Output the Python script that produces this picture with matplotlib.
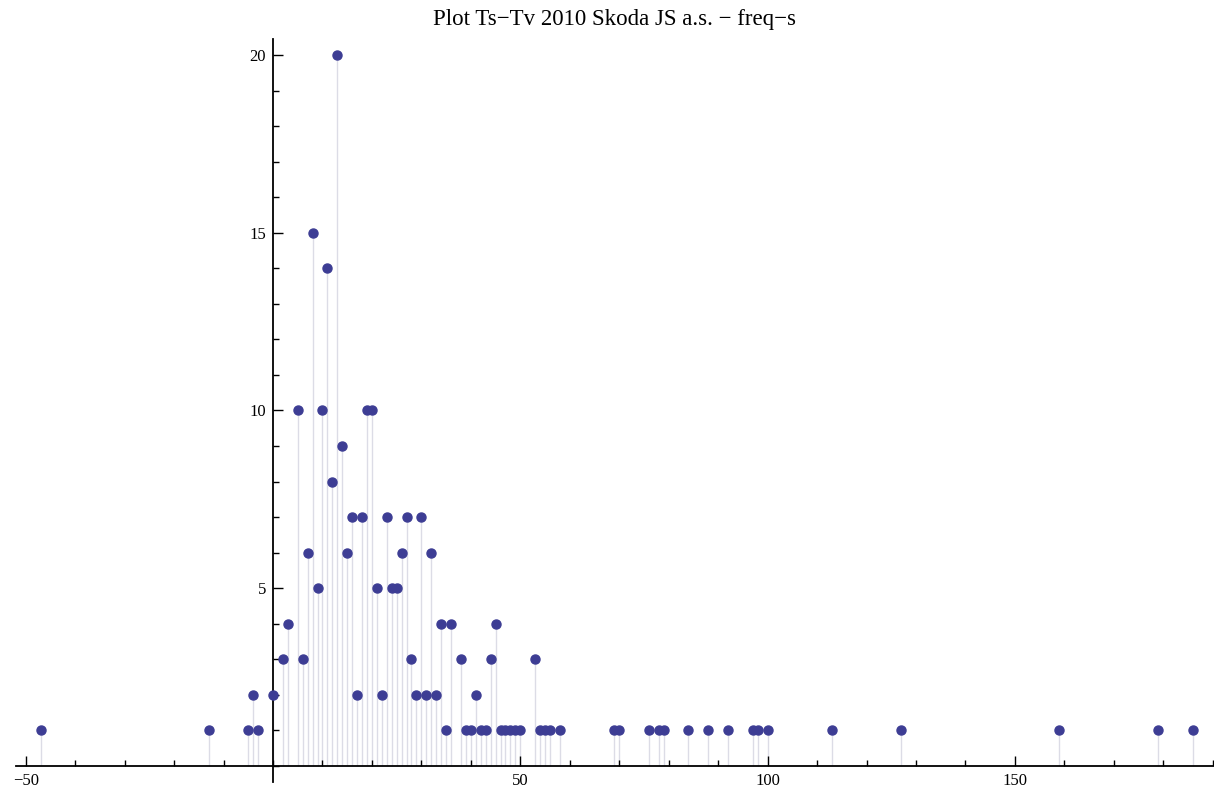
import matplotlib
matplotlib.use('Agg')
import matplotlib.pyplot as plt
from matplotlib.ticker import MultipleLocator, FixedLocator
import numpy as np

# Ts - Tv differences and how often each one occurs
diff = [-47, -13, -5, -4, -3, 0, 2, 3, 5, 6, 7, 8, 9, 10, 11, 12, 13, 14, 15, 16,
        17, 18, 19, 20, 21, 22, 23, 24, 25, 26, 27, 28, 29, 30, 31, 32, 33, 34, 35, 36,
        38, 39, 40, 41, 42, 43, 44, 45, 46, 47, 48, 49, 50, 53, 54, 55, 56, 58,
        69, 70, 76, 78, 79, 84, 88, 92, 97, 98, 100, 113, 127, 159, 179, 186]
freq = [1, 1, 1, 2, 1, 2, 3, 4, 10, 3, 6, 15, 5, 10, 14, 8, 20, 9, 6, 7,
        2, 7, 10, 10, 5, 2, 7, 5, 5, 6, 7, 3, 2, 7, 2, 6, 2, 4, 1, 4,
        3, 1, 1, 2, 1, 1, 3, 4, 1, 1, 1, 1, 1, 3, 1, 1, 1, 1,
        1, 1, 1, 1, 1, 1, 1, 1, 1, 1, 1, 1, 1, 1, 1, 1]

x_major = [-50, 50, 100, 150]
x_labels = ['\u221250', '50', '100', '150']
y_major = [5, 10, 15, 20]

title = 'Plot Ts\u2212Tv 2010 Skoda JS a.s. \u2212 freq\u2212s'

plt.rcParams['font.family'] = ['Liberation Serif', 'DejaVu Serif']

fig = plt.figure(figsize=(12.14, 7.95), dpi=100)
ax = fig.add_axes([0.013, 0.01635, 0.986, 0.9346])

# filling down to the axis, then the points
ax.vlines(diff, 0, freq, color='#dcdce6', linewidth=1.0, zorder=1)
ax.plot(diff, freq, 'o', color='#3d3d94', markersize=6.5, zorder=3)

ax.set_xlim(-52, 190)
ax.set_ylim(-0.45, 20.45)

ax.spines['left'].set_position(('data', 0))
ax.spines['bottom'].set_position(('data', 0))
ax.spines['top'].set_visible(False)
ax.spines['right'].set_visible(False)
for s in ['left', 'bottom']:
    ax.spines[s].set_linewidth(1.3)

ax.xaxis.set_major_locator(FixedLocator(x_major))
ax.set_xticklabels(x_labels)
ax.xaxis.set_minor_locator(MultipleLocator(10))
ax.yaxis.set_major_locator(FixedLocator(y_major))
ax.yaxis.set_minor_locator(MultipleLocator(1))

ax.tick_params(which='both', direction='in', labelsize=12)
ax.tick_params(axis='x', which='major', length=7, width=1, pad=5)
ax.tick_params(axis='x', which='minor', length=4, width=1)
ax.tick_params(axis='y', which='major', length=7, width=1, pad=5)
ax.tick_params(axis='y', which='minor', length=4, width=1)

ax.set_title(title, fontsize=16.5, pad=10)

fig.savefig('out.png', dpi=100)
